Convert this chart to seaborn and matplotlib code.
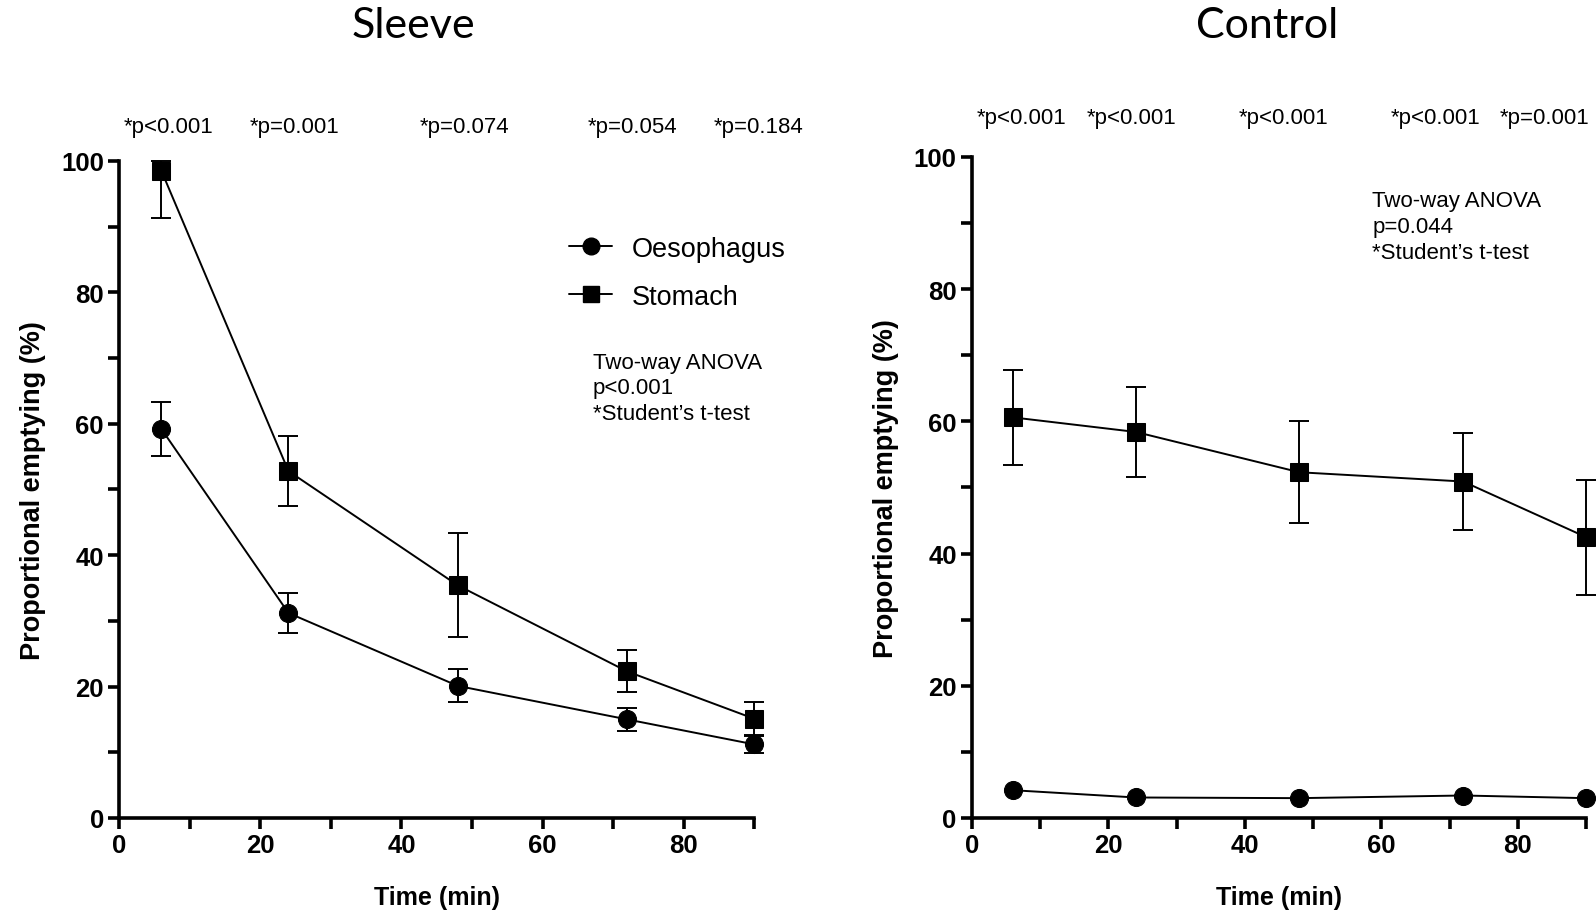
import numpy as np
import pandas as pd
import matplotlib
matplotlib.use("Agg")
import matplotlib.pyplot as plt
from matplotlib.ticker import MultipleLocator
from matplotlib.lines import Line2D
import seaborn as sns

# ---------------- data ----------------
time_min = [6, 24, 48, 72, 90]
series_names = ["Oesophagus", "Stomach"]

sleeve_oesophagus = [59.2, 31.2, 20.1, 15.0, 11.2]
sleeve_oesophagus_err = [4.1, 3.0, 2.5, 1.7, 1.3]
sleeve_stomach = [98.5, 52.8, 35.4, 22.3, 15.1]
sleeve_stomach_err = [7.2, 5.3, 7.9, 3.2, 2.5]

control_oesophagus = [4.2, 3.1, 3.0, 3.4, 3.0]
control_oesophagus_err = [0.3, 0.2, 0.2, 0.3, 0.2]
control_stomach = [60.6, 58.4, 52.3, 50.9, 42.5]
control_stomach_err = [7.2, 6.8, 7.7, 7.3, 8.7]

sleeve_pvalues = ["*p<0.001", "*p=0.001", "*p=0.074", "*p=0.054", "*p=0.184"]
control_pvalues = ["*p<0.001", "*p<0.001", "*p<0.001", "*p<0.001", "*p=0.001"]
sleeve_anova = "Two-way ANOVA\np<0.001\n*Student\u2019s t-test"
control_anova = "Two-way ANOVA\np=0.044\n*Student\u2019s t-test"
panel_titles = ["Sleeve", "Control"]

# ---------------- style ----------------
sns.set_theme(style="ticks")
plt.rcParams["font.family"] = ["Liberation Sans Narrow", "Liberation Sans", "DejaVu Sans"]
plt.rcParams["text.color"] = "black"
plt.rcParams["axes.labelcolor"] = "black"
plt.rcParams["xtick.color"] = "black"
plt.rcParams["ytick.color"] = "black"
plt.rcParams["xtick.labelcolor"] = "black"
plt.rcParams["ytick.labelcolor"] = "black"

NARROW = ["Liberation Sans Narrow", "Liberation Sans", "DejaVu Sans"]
REG = ["Liberation Sans", "DejaVu Sans"]
TITLE = ["Lato", "DejaVu Sans"]

fig = plt.figure(figsize=(15.96, 9.12), dpi=100)
ax_l = fig.add_axes([0.0746, 0.102, 0.398, 0.7204])
ax_r = fig.add_axes([0.609, 0.102, 0.3847, 0.7248])

def make_df(oes, sto):
    return pd.DataFrame({
        "Time": time_min * 2,
        "Value": list(oes) + list(sto),
        "Organ": [series_names[0]] * len(time_min) + [series_names[1]] * len(time_min),
    })

def draw(ax, oes, oes_err, sto, sto_err, show_oes_err=True):
    df = make_df(oes, sto)
    sns.lineplot(data=df, x="Time", y="Value", style="Organ",
                 markers={"Oesophagus": "o", "Stomach": "s"}, dashes=False,
                 color="black", linewidth=1.4, markersize=13,
                 markeredgecolor="black", legend=False, ax=ax, clip_on=False, zorder=3)
    sto = np.array(sto); sto_err = np.array(sto_err)
    upper = np.minimum(sto + sto_err, 100) - sto
    ax.errorbar(time_min, sto, yerr=[sto_err, upper], fmt="none", ecolor="black",
                elinewidth=1.4, capsize=7, capthick=1.4, clip_on=False, zorder=2)
    if show_oes_err:
        ax.errorbar(time_min, oes, yerr=oes_err, fmt="none", ecolor="black",
                    elinewidth=1.4, capsize=7, capthick=1.4, clip_on=False, zorder=2)
    for ln in ax.lines:
        ln.set_clip_on(False)

    ax.set_xlim(0, 90)
    ax.set_ylim(0, 100)
    ax.xaxis.set_major_locator(MultipleLocator(20))
    ax.xaxis.set_minor_locator(MultipleLocator(10))
    ax.yaxis.set_major_locator(MultipleLocator(20))
    ax.yaxis.set_minor_locator(MultipleLocator(10))
    for s in ["top", "right"]:
        ax.spines[s].set_visible(False)
    for s in ["left", "bottom"]:
        ax.spines[s].set_linewidth(2.6)
        ax.spines[s].set_color("black")
    ax.tick_params(which="both", direction="out", length=8, width=2.6, color="black",
                   labelcolor="black")
    ax.tick_params(which="major", labelsize=18.5, pad=3)
    for lab in ax.get_xticklabels() + ax.get_yticklabels():
        lab.set_fontweight("bold")
        lab.set_family(NARROW)
    ax.set_xlabel("Time (min)", fontsize=18, fontweight="bold", family=NARROW, labelpad=20,
                  color="black")
    ax.set_ylabel("Proportional emptying (%)", fontsize=19.5, fontweight="bold", family=REG,
                  labelpad=11, color="black")
    ax.set_facecolor("white")

draw(ax_l, sleeve_oesophagus, sleeve_oesophagus_err, sleeve_stomach, sleeve_stomach_err)
draw(ax_r, control_oesophagus, control_oesophagus_err, control_stomach, control_stomach_err,
     show_oes_err=False)

# p-value annotations (layout positions in data units)
sleeve_p_x = [7.0, 24.8, 49.0, 72.8, 90.6]
control_p_x = [7.2, 23.4, 45.7, 67.9, 84.0]
for x, t in zip(sleeve_p_x, sleeve_pvalues):
    ax_l.text(x, 105.3, t, ha="center", va="center", fontsize=16, family=NARROW,
              color="black", clip_on=False)
for x, t in zip(control_p_x, control_pvalues):
    ax_r.text(x, 105.9, t, ha="center", va="center", fontsize=16, family=NARROW,
              color="black", clip_on=False)

# ANOVA notes
ax_l.text(67.1, 71.0, sleeve_anova, ha="left", va="top", fontsize=16, family=NARROW,
          linespacing=1.3, color="black")
ax_r.text(58.7, 95.0, control_anova, ha="left", va="top", fontsize=16, family=NARROW,
          linespacing=1.3, color="black")

# legend (left panel)
handles = [Line2D([0], [0], color="black", marker="o", markersize=12, linewidth=1.4),
           Line2D([0], [0], color="black", marker="s", markersize=12, linewidth=1.4)]
leg = ax_l.legend(handles, series_names, loc="upper left", bbox_to_anchor=(0.67, 0.923),
                  frameon=False, handlelength=1.6, handletextpad=0.7,
                  labelspacing=0.8, prop={"family": REG, "size": 19.5})
for t in leg.get_texts():
    t.set_color("black")

# panel titles
fig.text(0.2588, 0.992, panel_titles[0], ha="center", va="top", fontsize=31, family=TITLE,
         color="black")
fig.text(0.7940, 0.992, panel_titles[1], ha="center", va="top", fontsize=31, family=TITLE,
         color="black")

fig.savefig("out.png", dpi=100, facecolor="white")
